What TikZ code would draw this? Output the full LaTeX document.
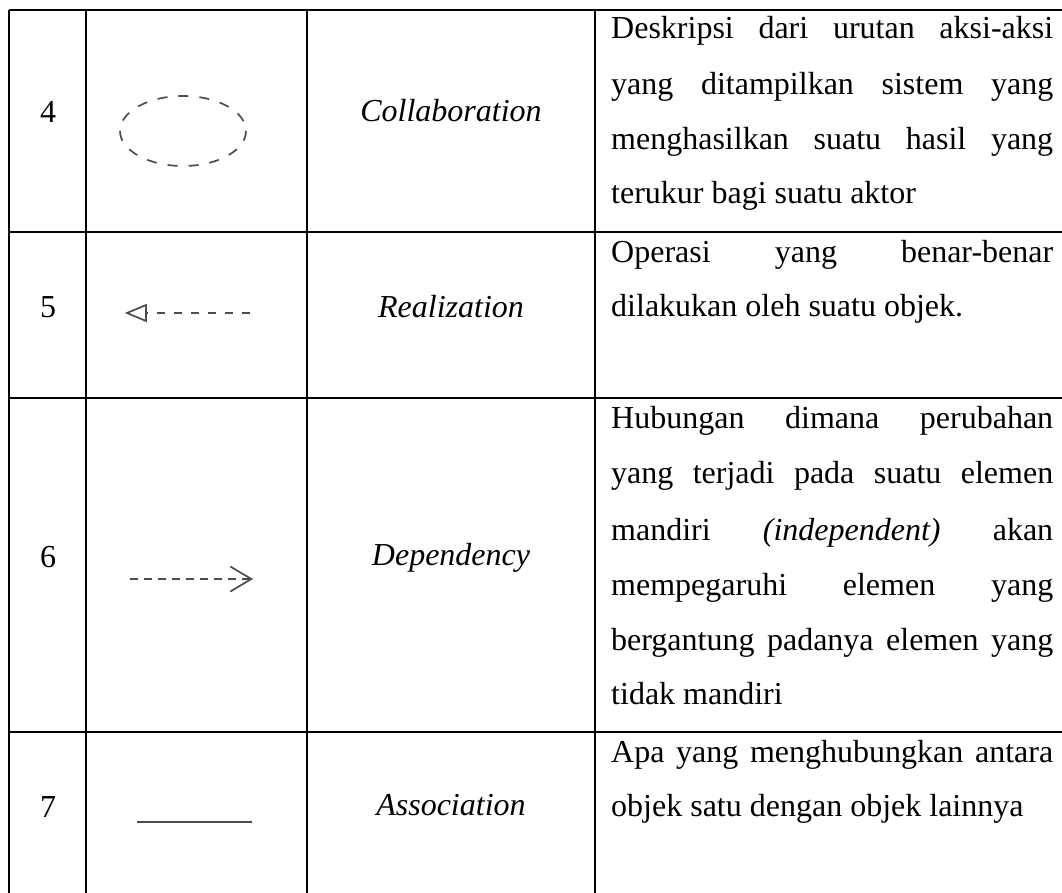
\documentclass[tikz,border=0pt]{standalone}
\usepackage{fontspec}
\setmainfont{Liberation Serif}
\usepackage{tikz}
\usetikzlibrary{calc}
\usetikzlibrary{positioning}
\usetikzlibrary{arrows.meta}

\newcommand{\spreadline}[1]{\makebox[442pt][s]{#1}}
\tikzset{
	grid line/.style={line width=2.2pt,black},
	uml glyph/.style={line width=1.7pt,black!70},
	num/.style={font=\fontsize{32}{40}\selectfont,anchor=base,inner sep=0pt},
	term/.style={font=\fontsize{32}{40}\selectfont\itshape,anchor=base,inner sep=0pt},
	desc/.style={font=\fontsize{32}{40}\selectfont,anchor=base west,inner sep=0pt}
}

\begin{document}
\begin{tikzpicture}[x=1pt,y=-1pt]
		\useasboundingbox (0,0) rectangle (1062,893);
		\draw[grid line] (9,10) -- (1062,10);
		\draw[grid line] (9,232) -- (1062,232);
		\draw[grid line] (9,398) -- (1062,398);
		\draw[grid line] (9,732) -- (1062,732);
		\foreach \cx in {9,86,307,595}
			\draw[grid line] (\cx,10) -- (\cx,893);
		\node[num] (n4) at (48,123) {4};
		\node[num] (n5) at (48,317) {5};
		\node[num] (n6) at (48,567) {6};
		\node[num] (n7) at (48,817) {7};
		\node[term] (t4) at (451,122) {Collaboration};
		\node[term] (t5) at (451,317) {Realization};
		\node[term] (t6) at (451,565) {Dependency};
		\node[term] (t7) at (451,815) {Association};
		\draw[uml glyph,dash pattern=on 10pt off 11pt] (183,131) ellipse (63 and 35);
		\coordinate (r-tip) at (127,313);
		\coordinate (r-base) at (146,313);
		\coordinate (r-end) at (250,313);
		\draw[uml glyph,dash pattern=on 8pt off 9pt] (r-end) -- (r-base);
		\draw[uml glyph,line join=miter] (r-tip) -- ($(r-base)+(0,-8)$) -- ($(r-base)+(0,8)$) -- cycle;
		\coordinate (d-start) at (130,579);
		\coordinate (d-tip) at (253,579);
		\draw[uml glyph,dash pattern=on 8pt off 6pt,-{Straight Barb[length=21pt,width=25pt]}] (d-start) -- (d-tip);
		\coordinate (a-start) at (137,822);
		\coordinate (a-end) at (252,822);
		\draw[line width=2pt,black!70] (a-start) -- (a-end);
		\node[desc] (d4a) at (611,39) {\spreadline{Deskripsi dari urutan aksi-aksi}};
		\node[desc] (d4b) at (611,95) {\spreadline{yang ditampilkan sistem yang}};
		\node[desc] (d4c) at (611,150) {\spreadline{menghasilkan suatu hasil yang}};
		\node[desc] (d4d) at (611,204) {terukur bagi suatu aktor};
		\node[desc] (d5a) at (611,262) {\spreadline{Operasi yang benar-benar}};
		\node[desc] (d5b) at (611,316) {dilakukan oleh suatu objek.};
		\node[desc] (d6a) at (611,428) {\spreadline{Hubungan dimana perubahan}};
		\node[desc] (d6b) at (611,483) {\spreadline{yang terjadi pada suatu elemen}};
		\node[desc] (d6c) at (611,540) {\spreadline{mandiri \textit{(independent)} akan}};
		\node[desc] (d6d) at (611,595) {\spreadline{mempegaruhi elemen yang}};
		\node[desc] (d6e) at (611,650) {\spreadline{bergantung padanya elemen yang}};
		\node[desc] (d6f) at (611,704) {tidak mandiri};
		\node[desc] (d7a) at (611,762) {\spreadline{Apa yang menghubungkan antara}};
		\node[desc] (d7b) at (611,816) {objek satu dengan objek lainnya};
	\end{tikzpicture}
\end{document}
